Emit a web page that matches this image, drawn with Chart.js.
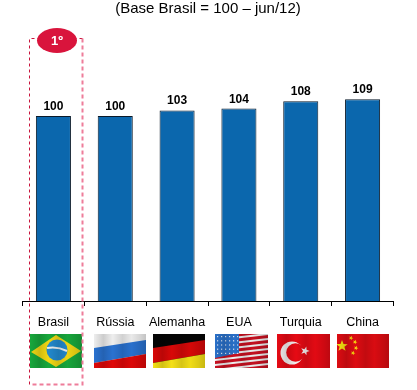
<!DOCTYPE html>
<html><head><meta charset="utf-8">
<script src="https://cdn.jsdelivr.net/npm/chart.js@4"></script>
<style>html,body{margin:0;padding:0;background:#fff}#w{position:relative;width:417px;height:390px}</style>
</head><body><div id="w"><canvas id="c" width="417" height="390"></canvas></div>
<script>
const categories = ["Brasil","Rússia","Alemanha","EUA","Turquia","China"];
const values = [100,100,103,104,108,109];
const titleText = "(Base Brasil = 100 – jun/12)";
const rankText = "1º";

function star(g,cx,cy,r,col,rot){g.fillStyle=col;g.beginPath();for(let i=0;i<10;i++){const a=(rot||0)-Math.PI/2+i*Math.PI/5,q=i%2?r*0.42:r;g.lineTo(cx+q*Math.cos(a),cy+q*Math.sin(a));}g.closePath();g.fill();}
function slantBand(g,x,y,w,yl,yr,yl2,yr2,col){g.fillStyle=col;g.beginPath();g.moveTo(x,y+yl);g.lineTo(x+w,y+yr);g.lineTo(x+w,y+yr2);g.lineTo(x,y+yl2);g.closePath();g.fill();}
function waves(g,x,y,w,h){const gr=g.createLinearGradient(x,0,x+w,0);const n=[0,.18,.36,.55,.72,.88,1],a=[.0,.14,.0,.12,.02,.1,.18];
 n.forEach((p,i)=>gr.addColorStop(p,`rgba(0,0,0,${a[i]})`));g.fillStyle=gr;g.fillRect(x,y,w,h);}
const drawFlag={
 Brasil(g,x,y,w,h){g.fillStyle="#18a83c";g.fillRect(x,y,w,h);g.fillStyle="#f2d814";g.beginPath();g.moveTo(x+1,y+18);g.lineTo(x+26,y+1);g.lineTo(x+51,y+17);g.lineTo(x+26,y+33);g.closePath();g.fill();
  g.fillStyle="#2288cc";g.beginPath();g.arc(x+27,y+16,10.5,0,7);g.fill();g.strokeStyle="#e8eef0";g.lineWidth=2;g.beginPath();g.moveTo(x+17,y+14);g.quadraticCurveTo(x+27,y+12,x+37,y+17);g.stroke();},
 "Rússia"(g,x,y,w,h){g.fillStyle="#eeeeee";g.fillRect(x,y,w,h);slantBand(g,x,y,w,14,6,29,20,"#2a72d0");slantBand(g,x,y,w,29,20,34,34,"#e00808");},
 Alemanha(g,x,y,w,h){g.fillStyle="#050505";g.fillRect(x,y,w,h);slantBand(g,x,y,w,14,6,29,20,"#d80808");slantBand(g,x,y,w,29,20,34,34,"#f4e016");},
 EUA(g,x,y,w,h){g.fillStyle="#f0f0f0";g.fillRect(x,y,w,h);for(let i=0;i<8;i++){slantBand(g,x,y,w,i*5+2,i*5-4,i*5+5,i*5-1,"#c81020");}
  g.fillStyle="#2a70c8";g.beginPath();g.moveTo(x,y);g.lineTo(x+24,y);g.lineTo(x+24,y+19);g.lineTo(x,y+24);g.closePath();g.fill();
  g.fillStyle="#dfe8f5";for(let r=0;r<5;r++)for(let c=0;c<6;c++){g.fillRect(x+2+c*4,y+2+r*4.2,1.2,1.2);}},
 Turquia(g,x,y,w,h){g.fillStyle="#e60a14";g.fillRect(x,y,w,h);g.fillStyle="#f4eeee";g.beginPath();g.arc(x+15,y+19,11.5,0,7);g.fill();g.fillStyle="#e60a14";g.beginPath();g.arc(x+18.5,y+18.5,9.3,0,7);g.fill();star(g,x+28,y+17,4.6,"#f4eeee",0.3);},
 China(g,x,y,w,h){g.fillStyle="#dd0c12";g.fillRect(x,y,w,h);star(g,x+5,y+12,6,"#f6e010",0);[[14,4],[18,8],[19,14],[16,19]].forEach(p=>star(g,x+p[0],y+p[1],2.4,"#f6d010",0.4));}
};
const flagBoxes=[[30,334,52,34],[94,334,52,34],[153,334,52,34],[215,334,53,34],[277,334,53,34],[337,334,52,34]];
const overlayPlugin={id:"overlay",afterDraw(chart){
 const g=chart.ctx,meta=chart.getDatasetMeta(0);
 g.save();
 g.fillStyle="#000";g.font="bold 12px 'Liberation Sans'";g.textAlign="center";g.textBaseline="alphabetic";
 meta.data.forEach((b,i)=>g.fillText(String(values[i]),b.x,b.y-6));
 categories.forEach((k,i)=>{const [x,y,w,h]=flagBoxes[i];g.save();g.beginPath();g.rect(x,y,w,h);g.clip();drawFlag[k](g,x,y,w,h);waves(g,x,y,w,h);g.restore();});
 g.lineWidth=1;g.setLineDash([3,3]);g.strokeStyle="#c8143c";g.beginPath();g.moveTo(29.5,384.5);g.lineTo(29.5,38.5);g.lineTo(82.5,38.5);g.stroke();
 g.lineWidth=2;g.strokeStyle="#ee7d9a";g.setLineDash([4,3]);g.beginPath();g.moveTo(82.5,38.5);g.lineTo(82.5,384.5);g.lineTo(29.5,384.5);g.stroke();
 g.setLineDash([]);g.fillStyle="#d9143c";g.beginPath();g.ellipse(57,40.5,20,12.5,0,0,7);g.fill();
 g.fillStyle="#fff";g.font="bold 13px 'Liberation Sans'";g.textBaseline="middle";g.fillText(rankText,57,41);
 g.restore();
}};
new Chart(document.getElementById("c"),{type:"bar",
 data:{labels:categories,datasets:[{data:values,backgroundColor:"#0b67ad",borderColor:"#0a1a2a",borderWidth:1,categoryPercentage:1,barPercentage:0.567}]},
 plugins:[overlayPlugin],
 options:{responsive:false,animation:false,
  layout:{padding:{left:22.5,right:23.5,top:-0.5,bottom:0}},
  plugins:{legend:{display:false},tooltip:{enabled:false},
   title:{display:true,text:titleText,color:"#000",font:{family:"'Liberation Sans'",size:15,weight:"normal"},padding:{top:0,bottom:6}}},
  scales:{
   x:{afterFit(s){s.height=89;},grid:{offset:true,drawOnChartArea:false,tickLength:5,tickColor:"#000",color:"#000"},border:{color:"#000",width:1},
      ticks:{color:"#000",font:{family:"'Liberation Sans'",size:12.5},padding:9,maxRotation:0,autoSkip:false}},
   y:{display:false,min:0,max:150}
  }}});
</script></body></html>
